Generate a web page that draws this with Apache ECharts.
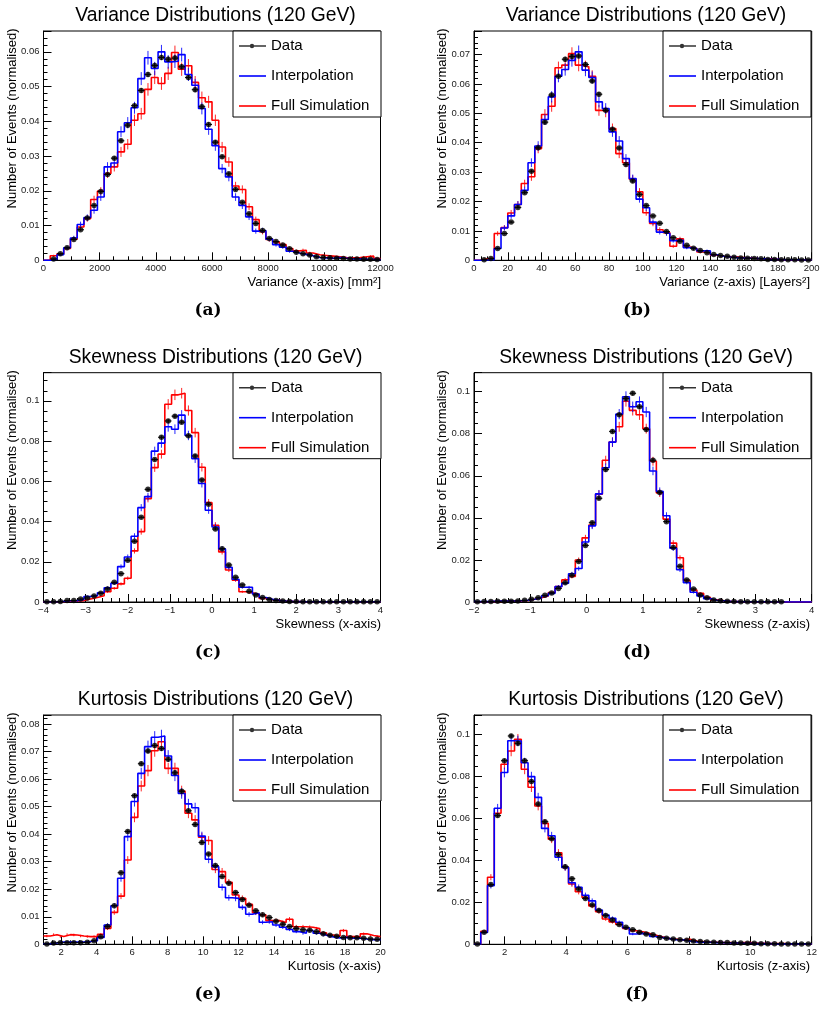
<!DOCTYPE html>
<html><head><meta charset="utf-8">
<script src="https://cdn.jsdelivr.net/npm/echarts@6/dist/echarts.min.js"></script>
<style>html,body{margin:0;padding:0;background:#fff}#c{width:825px;height:1014px}</style>
</head><body><div id="c"></div>
<script>
// ---------------- DATA (50 bins per panel, normalised) ----------------
const dataA = [0,0.0004,0.0019,0.0036,0.006,0.0088,0.0122,0.0158,0.0198,0.0247,0.0294,0.0344,0.0389,0.0445,0.0489,0.0535,0.0561,0.0584,0.0579,0.0582,0.0557,0.0526,0.0491,0.0442,0.0391,0.034,0.0298,0.0249,0.0204,0.0167,0.0134,0.0106,0.0086,0.0063,0.0054,0.0044,0.0033,0.0023,0.0019,0.0015,0.001,0.0008,0.0007,0.0006,0.0005,0.0004,0.0004,0.0003,0.0003,0.0002];
const interpA = [0,0.0003,0.0016,0.0036,0.0064,0.0103,0.0123,0.0144,0.0182,0.0269,0.028,0.037,0.0396,0.0439,0.0523,0.0583,0.0552,0.06,0.0571,0.0573,0.0592,0.0535,0.0504,0.0437,0.0377,0.033,0.0264,0.024,0.0182,0.0158,0.0125,0.0084,0.0086,0.0061,0.0045,0.0038,0.0026,0.0021,0.0017,0.0013,0.0008,0.0007,0.0006,0.0008,0.0006,0.0004,0.0004,0.0003,0.0003,0.0002];
const fullA = [0,0.0013,0.0019,0.0034,0.0061,0.0096,0.012,0.0175,0.0199,0.025,0.0269,0.0312,0.0334,0.0403,0.0422,0.0492,0.0526,0.0509,0.0538,0.0598,0.055,0.056,0.0512,0.0468,0.0456,0.0403,0.0326,0.0283,0.0214,0.0204,0.0154,0.0117,0.0082,0.006,0.0053,0.0045,0.0034,0.0027,0.0029,0.0021,0.0016,0.0014,0.0012,0.001,0.0008,0.0007,0.0008,0.001,0.0012,0.0005];

const dataB = [0,0.0002,0.0006,0.004,0.0091,0.013,0.018,0.023,0.0303,0.0383,0.047,0.0562,0.0626,0.0684,0.0693,0.0695,0.0666,0.061,0.0565,0.051,0.0446,0.0382,0.0326,0.027,0.0224,0.0186,0.0151,0.0126,0.0098,0.0077,0.0065,0.0051,0.0041,0.0033,0.0026,0.002,0.0016,0.0014,0.001,0.0008,0.0007,0.0006,0.0005,0.0003,0.0003,0.0002,0.0002,0.0002,0.0001,0.0001];
const interpB = [0,0.0001,0.0002,0.004,0.011,0.0151,0.019,0.0238,0.0332,0.0389,0.0479,0.0556,0.0626,0.0649,0.068,0.0709,0.0647,0.0622,0.0539,0.0516,0.0437,0.0406,0.0346,0.0278,0.0208,0.0179,0.013,0.0096,0.0091,0.0067,0.0068,0.0043,0.004,0.0032,0.0032,0.0019,0.0014,0.0011,0.0009,0.0008,0.0007,0.0006,0.0005,0.0003,0.0003,0.0002,0.0002,0.0002,0.0001,0.0001];
const fullB = [0,0.0005,0.0008,0.0091,0.0111,0.0161,0.019,0.0261,0.0284,0.038,0.0496,0.0524,0.0655,0.0664,0.0703,0.0664,0.0658,0.0626,0.051,0.0505,0.0448,0.0363,0.0332,0.0276,0.0233,0.0162,0.0125,0.0104,0.0094,0.0048,0.0073,0.0045,0.004,0.0028,0.0025,0.0017,0.0014,0.0012,0.0011,0.0009,0.0008,0.0006,0.0005,0.0005,0.0003,0.0002,0.0002,0.0002,0.0001,0.0001];

const dataC = [0.0001,0.0001,0.0002,0.0007,0.0008,0.0015,0.002,0.003,0.0043,0.0065,0.0098,0.0141,0.0207,0.0302,0.0421,0.056,0.0708,0.0819,0.09,0.0924,0.0894,0.0826,0.0726,0.0607,0.0486,0.0363,0.0265,0.0184,0.0123,0.0085,0.0053,0.0035,0.0022,0.0013,0.0008,0.0005,0.0003,0.0002,0.0001,0.0001,0.0001,0.0001,0.0001,0.0001,0.0001,0.0001,0.0001,0.0001,0.0001,0.0001];
const interpC = [0,0.0001,0.0003,0.0006,0.0007,0.0013,0.0027,0.0031,0.0046,0.0071,0.0093,0.0176,0.0224,0.0327,0.0469,0.0524,0.075,0.079,0.0871,0.0859,0.0929,0.0828,0.0713,0.0589,0.0456,0.0373,0.0264,0.0172,0.0113,0.0073,0.0073,0.004,0.0022,0.0013,0.0008,0.0005,0.0003,0.0002,0.0001,0.0001,0.0001,0.0001,0.0001,0.0001,0.0001,0.0001,0.0001,0.0001,0.0001,0.0001];
const fullC = [0,0.0001,0.0002,0.0004,0.0005,0.0007,0.0015,0.0022,0.0031,0.0051,0.0068,0.009,0.0118,0.0254,0.035,0.0514,0.0668,0.0735,0.0983,0.103,0.1038,0.0952,0.0842,0.067,0.0494,0.0381,0.0249,0.0159,0.0109,0.0051,0.0046,0.0038,0.0018,0.0012,0.0008,0.0005,0.0003,0.0002,0.0001,0.0001,0.0001,0.0001,0.0001,0.0001,0.0001,0.0001,0.0001,0.0001,0.0001,0.0001];

const dataD = [0.0001,0.0002,0.0002,0.0003,0.0004,0.0004,0.0005,0.0008,0.0013,0.002,0.0032,0.0043,0.0064,0.0091,0.0127,0.0192,0.0269,0.0377,0.0493,0.063,0.0811,0.089,0.0967,0.0992,0.0928,0.082,0.0674,0.0521,0.0382,0.0259,0.017,0.0105,0.0062,0.0033,0.002,0.001,0.0006,0.0003,0.0002,0.0001,0.0001,0.0001,0.0001,0.0001,0.0001,0.0001,0,0,0,0];
const interpD = [0.0002,0.0002,0.0003,0.0004,0.0005,0.0005,0.0006,0.0008,0.0013,0.0019,0.003,0.0041,0.0073,0.0089,0.0134,0.0159,0.0285,0.0362,0.0514,0.0638,0.076,0.0893,0.0976,0.0928,0.0952,0.0903,0.0623,0.0526,0.041,0.0256,0.0153,0.0092,0.0046,0.0029,0.0016,0.0008,0.0006,0.0003,0.0002,0.0001,0.0001,0.0001,0.0001,0.0001,0,0,0,0,0,0];
const fullD = [0.0001,0.0001,0.0002,0.0003,0.0004,0.0004,0.0005,0.0007,0.0013,0.002,0.0029,0.0045,0.0073,0.0105,0.0121,0.02,0.0305,0.0366,0.0512,0.0674,0.076,0.0833,0.0954,0.0911,0.089,0.0824,0.0669,0.0518,0.0394,0.028,0.021,0.0102,0.0057,0.0041,0.0022,0.0011,0.0006,0.0003,0.0002,0.0001,0.0001,0.0001,0.0001,0.0001,0,0,0,0,0,0];

const dataE = [0.0001,0.0005,0.0006,0.0006,0.0006,0.0006,0.0007,0.0013,0.0027,0.0065,0.014,0.026,0.041,0.054,0.0656,0.0702,0.0722,0.0711,0.0672,0.0623,0.0556,0.0485,0.0435,0.037,0.0328,0.0286,0.0246,0.0222,0.0188,0.0163,0.0142,0.0122,0.0107,0.0097,0.0084,0.0073,0.0065,0.0057,0.0053,0.0051,0.0046,0.0038,0.0033,0.0029,0.0025,0.0024,0.0024,0.0022,0.0019,0.0018];
const interpE = [0.0002,0.0005,0.0008,0.0008,0.0008,0.0008,0.001,0.0013,0.0025,0.007,0.014,0.024,0.0391,0.0519,0.0621,0.0718,0.0752,0.0757,0.0684,0.0613,0.0548,0.051,0.0496,0.0393,0.0309,0.0282,0.0207,0.0169,0.0167,0.0134,0.0109,0.0116,0.008,0.0082,0.007,0.0062,0.0054,0.0046,0.004,0.005,0.004,0.0033,0.0027,0.0023,0.0025,0.0022,0.0022,0.0019,0.0017,0.0017];
const fullE = [0.003,0.0035,0.0028,0.0035,0.0034,0.003,0.0028,0.0028,0.0036,0.0058,0.0116,0.0175,0.0306,0.0461,0.0575,0.0631,0.0703,0.0736,0.0639,0.0639,0.0557,0.0476,0.0452,0.0389,0.0377,0.0272,0.0264,0.0225,0.0179,0.0167,0.0145,0.0115,0.0107,0.0086,0.0086,0.0079,0.0091,0.0064,0.0064,0.0062,0.0057,0.0042,0.0034,0.003,0.005,0.0028,0.0027,0.0038,0.0032,0.0028];

const dataF = [0.0001,0.0057,0.0285,0.0614,0.0876,0.0994,0.0959,0.0876,0.0777,0.0669,0.0585,0.0504,0.0429,0.037,0.0313,0.0264,0.0219,0.0188,0.0161,0.0137,0.0116,0.0094,0.0081,0.007,0.0057,0.0049,0.0045,0.0033,0.0029,0.0025,0.0022,0.0019,0.0016,0.0013,0.0011,0.001,0.0008,0.0008,0.0006,0.0006,0.0005,0.0005,0.0003,0.0003,0.0003,0.0002,0.0002,0.0002,0.0002,0.0002];
const interpF = [0,0.0056,0.028,0.0649,0.082,0.0971,0.097,0.0866,0.08,0.0701,0.0553,0.0518,0.0415,0.0367,0.0294,0.0272,0.0234,0.0207,0.0164,0.014,0.0124,0.0105,0.0079,0.0049,0.0052,0.0048,0.0037,0.0032,0.0027,0.0022,0.0021,0.0016,0.0011,0.001,0.001,0.0008,0.0008,0.0006,0.0006,0.0005,0.0005,0.0003,0.0003,0.0003,0.0002,0.0002,0.0002,0.0002,0.0002,0.0002];
const fullF = [0,0.0062,0.032,0.0625,0.0859,0.0922,0.0978,0.0835,0.0749,0.066,0.0577,0.0501,0.0437,0.0367,0.0288,0.0251,0.0223,0.0183,0.0156,0.0121,0.0107,0.0095,0.0076,0.0065,0.006,0.0052,0.0043,0.0035,0.0027,0.0024,0.0021,0.0024,0.0016,0.0013,0.0011,0.001,0.0008,0.0008,0.0006,0.0008,0.0008,0.0006,0.0005,0.0003,0.0003,0.0003,0.0002,0.0002,0.0002,0.0002];

const DATA = [dataA, dataB, dataC, dataD, dataE, dataF];
const INTERP = [interpA, interpB, interpC, interpD, interpE, interpF];
const FULL = [fullA, fullB, fullC, fullD, fullE, fullF];

// Axis ranges / ticks
const X_MIN = [0, 0, -4, -2, 1, 1];
const X_MAX = [12000, 200, 4, 4, 20, 12];
const X_INTERVAL = [2000, 20, 1, 1, null, null];
const X_SPLIT = [null, null, null, null, 10, 5];
const X_MINOR = [4, 5, 5, 5, 4, 4];
const Y_MAX = [0.066, 0.078, 0.114, 0.109, 0.0833, 0.1094];
const Y_INTERVAL = [0.01, 0.01, 0.02, 0.02, 0.01, 0.02];
const Y_MINOR = [5, 5, 4, 4, 5, 4];

// Event counts used for Poisson error bars (sqrt(v/N))
const N_EVENTS_SIM = 15000;
const N_EVENTS_DATA = 100000;

// Texts
const TITLES = ['Variance Distributions (120 GeV)','Variance Distributions (120 GeV)','Skewness Distributions (120 GeV)','Skewness Distributions (120 GeV)','Kurtosis Distributions (120 GeV)','Kurtosis Distributions (120 GeV)'];
const X_TITLES = ['Variance (x-axis) [mm\u00b2]','Variance (z-axis) [Layers\u00b2]','Skewness (x-axis)','Skewness (z-axis)','Kurtosis (x-axis)','Kurtosis (z-axis)'];
const Y_TITLE = 'Number of Events (normalised)';
const CAPTIONS = ['(a)','(b)','(c)','(d)','(e)','(f)'];
const LEGEND_NAMES = ['Data','Interpolation','Full Simulation'];

// ---------------- LAYOUT ----------------
const FONT = '"Liberation Sans", Arial, Helvetica, sans-serif';
const COL_LEFT = [43.5, 474];
const COL_WIDTH = [337, 337.7];
const ROW_TOP = [31, 372.7, 715];
const GRID_H = 229.3;
const TITLE_X = [215.5, 646];
const YTITLE_X = [12.3, 442.8];
const XTITLE_RIGHT = [381, 810];
const CAPTION_X = [208, 637];
const LEGEND_LEFT = [233, 663];

const COL_RED = '#ff0000', COL_BLUE = '#0000ff';

function fmt(v) {
  const s = String(Math.round(v * 1e6) / 1e6);
  return s.replace('-', '\u2212');
}
function stepData(vals, lo, w) {
  const out = vals.map((v, i) => [lo + i * w, v]);
  out.push([lo + vals.length * w, vals[vals.length - 1]]);
  return out;
}
function pointData(vals, lo, w) {
  return vals.map((v, i) => [lo + (i + 0.5) * w, v]).filter(d => d[1] > 0);
}
function errData(vals, lo, w, n) {
  return vals.map((v, i) => [lo + (i + 0.5) * w, v, Math.sqrt(v / n)]).filter(d => d[1] > 0);
}
function errRender(color, halfW, opacity) {
  return function (params, api) {
    const x = api.value(0), y = api.value(1), e = api.value(2);
    const p1 = api.coord([x, Math.max(0, y - e)]);
    const p2 = api.coord([x, y + e]);
    const style = { stroke: color, lineWidth: 1, opacity: opacity };
    const children = [{ type: 'line', shape: { x1: p1[0], y1: p1[1], x2: p2[0], y2: p2[1] }, style }];
    if (halfW) {
      const l = api.coord([x - halfW, y]), r = api.coord([x + halfW, y]);
      children.push({ type: 'line', shape: { x1: l[0], y1: l[1], x2: r[0], y2: r[1] }, style });
    }
    return { type: 'group', children };
  };
}

const grids = [], xAxes = [], yAxes = [], series = [], legends = [], graphics = [];
const DATA_ICON = 'path://M0,2.3H27V3.7H0Z M10.8,3A2.2,2.2 0 1,1 15.2,3A2.2,2.2 0 1,1 10.8,3Z';
const LINE_ICON = 'path://M0,0H27V1.6H0Z';

for (let p = 0; p < 6; p++) {
  const row = Math.floor(p / 2), col = p % 2;
  const top = ROW_TOP[row], left = COL_LEFT[col], width = COL_WIDTH[col];
  grids.push({ left, top, width, height: GRID_H, show: true, borderColor: '#000', borderWidth: 1,
    backgroundColor: 'rgba(0,0,0,0)', containLabel: false, outerBoundsMode: 'none' });

  const xa = { gridIndex: p, type: 'value', min: X_MIN[p], max: X_MAX[p],
    axisLine: { show: true, onZero: false, lineStyle: { color: '#000', width: 1 } },
    axisTick: { show: true, inside: true, length: 8, lineStyle: { color: '#000', width: 1 } },
    minorTick: { show: true, splitNumber: X_MINOR[p], length: 4, lineStyle: { color: '#000', width: 1 } },
    axisLabel: { fontFamily: FONT, fontSize: 9.5, color: '#222', margin: 3, formatter: fmt,
      showMinLabel: X_INTERVAL[p] !== null, showMaxLabel: true },
    splitLine: { show: false }, minorSplitLine: { show: false } };
  if (X_INTERVAL[p] !== null) xa.interval = X_INTERVAL[p]; else xa.splitNumber = X_SPLIT[p];
  xAxes.push(xa);

  yAxes.push({ gridIndex: p, type: 'value', min: 0, max: Y_MAX[p], interval: Y_INTERVAL[p],
    axisLine: { show: true, onZero: false, lineStyle: { color: '#000', width: 1 } },
    axisTick: { show: true, inside: true, length: 8, lineStyle: { color: '#000', width: 1 } },
    minorTick: { show: true, splitNumber: Y_MINOR[p], length: 4, lineStyle: { color: '#000', width: 1 } },
    axisLabel: { fontFamily: FONT, fontSize: 9.5, color: '#222', margin: 4, formatter: fmt, showMaxLabel: false },
    splitLine: { show: false }, minorSplitLine: { show: false } });

  const lo = X_MIN[p], w = (X_MAX[p] - X_MIN[p]) / DATA[p].length;
  const hists = [[FULL[p], 'Full Simulation', COL_RED, 2], [INTERP[p], 'Interpolation', COL_BLUE, 3]];
  for (const [vals, name, color, z] of hists) {
    series.push({ type: 'line', name, xAxisIndex: p, yAxisIndex: p, step: 'end', symbol: 'none', showSymbol: false,
      z, silent: true, lineStyle: { color, width: 1.6 }, itemStyle: { color }, data: stepData(vals, lo, w) });
    series.push({ type: 'custom', name: name + ' errors', xAxisIndex: p, yAxisIndex: p, z, silent: true,
      encode: { x: 0, y: 1 }, renderItem: errRender(color, 0, 0.85), data: errData(vals, lo, w, N_EVENTS_SIM) });
  }
  series.push({ type: 'custom', name: 'Data errors', xAxisIndex: p, yAxisIndex: p, z: 4, silent: true,
    encode: { x: 0, y: 1 }, renderItem: errRender('#000', w / 2, 1), data: errData(DATA[p], lo, w, N_EVENTS_DATA) });
  series.push({ type: 'scatter', name: 'Data', xAxisIndex: p, yAxisIndex: p, z: 5, silent: true,
    symbol: 'circle', symbolSize: 5.5, itemStyle: { color: '#000' }, data: pointData(DATA[p], lo, w) });

  legends.push({ left: LEGEND_LEFT[col], top: top, orient: 'vertical', selectedMode: false,
    itemWidth: 27, itemHeight: 6, itemGap: 12, padding: [6, 6, 2, 6],
    backgroundColor: '#fff', borderColor: '#000', borderWidth: 1, borderRadius: 0,
    itemStyle: { borderWidth: 0 },
    textStyle: { fontFamily: FONT, fontSize: 15, color: '#000', lineHeight: 18, width: 104 },
    data: [{ name: LEGEND_NAMES[0], icon: DATA_ICON }, { name: LEGEND_NAMES[1], icon: LINE_ICON }, { name: LEGEND_NAMES[2], icon: LINE_ICON }] });

  graphics.push({ type: 'text', x: TITLE_X[col], y: top - 15.5,
    style: { text: TITLES[p], fill: '#000', fontFamily: FONT, fontSize: 19.3, align: 'center', verticalAlign: 'middle' } });
  graphics.push({ type: 'text', x: YTITLE_X[col], y: top - 2.5, rotation: Math.PI / 2,
    style: { text: Y_TITLE, fill: '#000', fontFamily: FONT, fontSize: 13, align: 'right', verticalAlign: 'middle' } });
  graphics.push({ type: 'text', x: XTITLE_RIGHT[col], y: top + GRID_H + 22,
    style: { text: X_TITLES[p], fill: '#000', fontFamily: FONT, fontSize: 13, align: 'right', verticalAlign: 'middle' } });
  graphics.push({ type: 'text', x: CAPTION_X[col], y: top + 280,
    style: { text: CAPTIONS[p], fill: '#000', fontFamily: '"DejaVu Serif", serif', fontWeight: 'bold', fontSize: 17, align: 'center', verticalAlign: 'middle' } });
}

const chart = echarts.init(document.getElementById('c'), null, { renderer: 'canvas', width: 825, height: 1014 });
chart.setOption({
  backgroundColor: '#fff',
  animation: false,
  grid: grids,
  xAxis: xAxes,
  yAxis: yAxes,
  legend: legends,
  series: series,
  graphic: { elements: graphics }
});
</script></body></html>
